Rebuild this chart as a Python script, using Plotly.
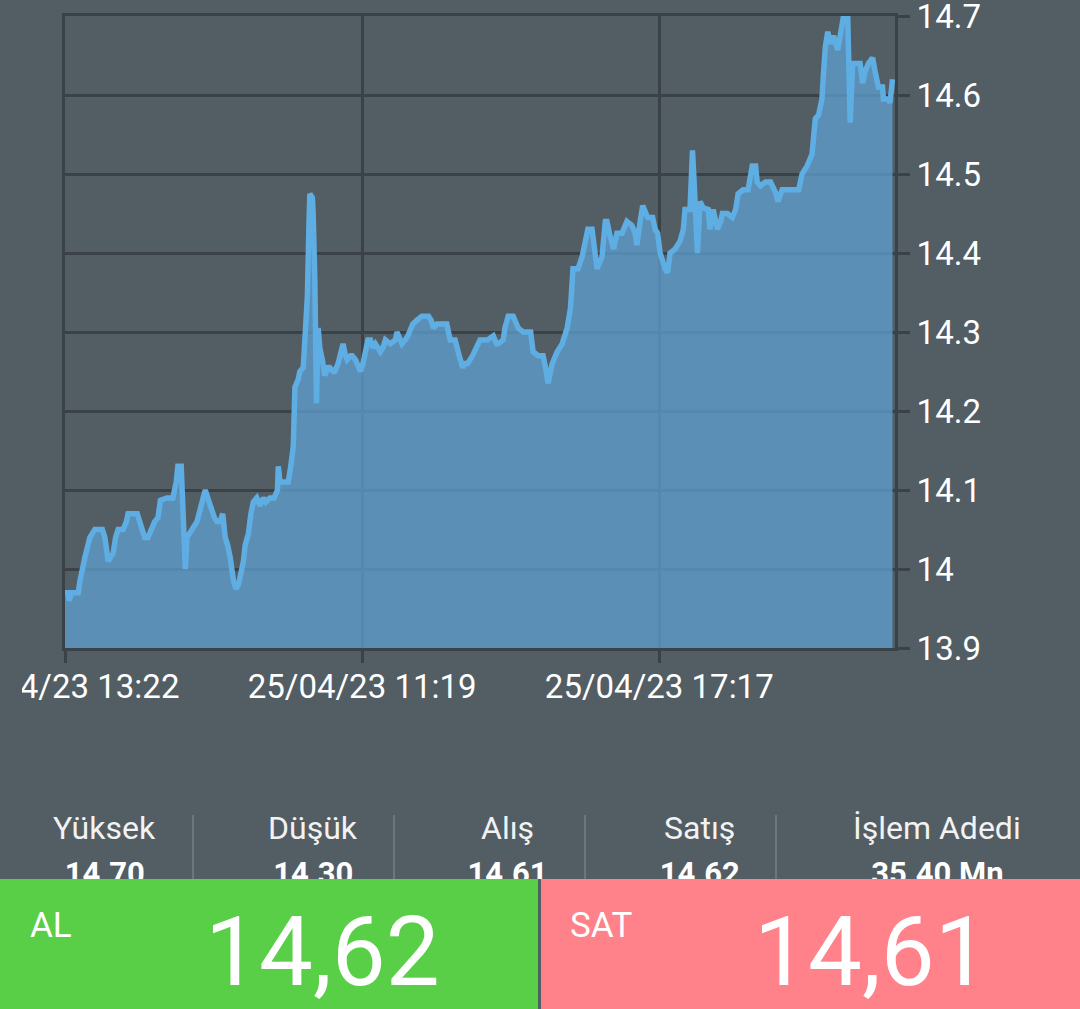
import plotly.graph_objects as go

W, H = 1080, 1009

# trading minutes since 24/04/23 13:22
minutes = [
    0, 4, 5, 8, 16, 18, 24, 28, 30, 36,
    45, 48, 52, 55, 58, 61, 64, 70, 74, 76,
    87, 90, 93, 96, 100, 105, 108, 112, 115, 123,
    130, 134, 136, 140, 143, 145, 147, 153, 159, 164,
    169, 172, 175, 180, 183, 187, 190, 193, 196, 199,
    203, 206, 209, 211, 215, 217, 221, 224, 227, 231,
    235, 239, 242, 247, 252, 256, 257, 259, 264, 269,
    272, 275, 277, 281, 283, 287, 289, 292, 294, 295,
    298, 299, 301, 303, 305, 307, 310, 313, 317, 319,
    323, 325, 329, 331, 335, 338, 340, 344, 346, 350,
    353, 356, 359, 362, 365, 368, 371, 374, 377, 380,
    383, 386, 392, 398, 400, 404, 406, 410, 413, 417,
    419, 424, 430, 438, 441, 444, 448, 452, 460, 464,
    470, 475, 479, 482, 485, 491, 495, 500, 509, 516,
    520, 522, 528, 530, 534, 540, 546, 552, 561, 564,
    570, 576, 579, 582, 585, 587, 593, 599, 605, 609,
    612, 618, 623, 627, 630, 635, 639, 641, 645, 647,
    651, 653, 657, 661, 665, 671, 677, 683, 687, 689,
    693, 696, 702, 708, 711, 714, 717, 721, 723, 726,
    729, 735, 741, 745, 747, 753, 756, 758, 759, 762,
    764, 765, 769, 775, 777, 781, 786, 790, 792, 798,
    804, 808, 811, 817, 823, 828, 832, 834, 838, 844,
    850, 856, 859, 864, 870, 878, 884, 888, 894, 900,
    904, 908, 912, 914, 916, 919, 922, 926, 931, 934,
    938, 943, 944, 946, 949, 955, 958, 961, 964, 968,
    973, 976, 980, 985, 986, 992, 994, 997,
]
price = [
    13.97, 13.97, 13.96, 13.97, 13.97, 13.985, 14.015, 14.03, 14.04, 14.05,
    14.05, 14.04, 14.01, 14.015, 14.02, 14.04, 14.05, 14.05, 14.06, 14.07,
    14.07, 14.06, 14.05, 14.04, 14.04, 14.055, 14.06, 14.065, 14.087, 14.09,
    14.09, 14.11, 14.13, 14.13, 14.03, 14.00, 14.04, 14.05, 14.06, 14.08,
    14.10, 14.09, 14.08, 14.065, 14.06, 14.06, 14.07, 14.04, 14.03, 14.015,
    13.985, 13.975, 13.98, 13.99, 14.01, 14.03, 14.045, 14.07, 14.085, 14.09,
    14.08, 14.09, 14.085, 14.09, 14.09, 14.10, 14.13, 14.11, 14.11, 14.11,
    14.13, 14.155, 14.23, 14.24, 14.25, 14.255, 14.29, 14.345, 14.44, 14.475,
    14.47, 14.45, 14.365, 14.21, 14.305, 14.28, 14.265, 14.245, 14.255, 14.255,
    14.25, 14.25, 14.26, 14.27, 14.285, 14.27, 14.265, 14.27, 14.27, 14.265,
    14.255, 14.25, 14.26, 14.275, 14.29, 14.29, 14.28, 14.285, 14.28, 14.275,
    14.28, 14.29, 14.285, 14.29, 14.30, 14.29, 14.285, 14.29, 14.295, 14.305,
    14.31, 14.315, 14.32, 14.32, 14.315, 14.305, 14.31, 14.31, 14.31, 14.29,
    14.29, 14.27, 14.255, 14.26, 14.26, 14.27, 14.28, 14.29, 14.29, 14.295,
    14.285, 14.285, 14.29, 14.305, 14.32, 14.32, 14.305, 14.30, 14.30, 14.275,
    14.27, 14.27, 14.255, 14.235, 14.25, 14.26, 14.275, 14.285, 14.305, 14.33,
    14.38, 14.38, 14.395, 14.415, 14.43, 14.43, 14.39, 14.38, 14.39, 14.395,
    14.44, 14.44, 14.42, 14.405, 14.425, 14.425, 14.44, 14.435, 14.425, 14.41,
    14.44, 14.46, 14.445, 14.445, 14.43, 14.425, 14.40, 14.385, 14.38, 14.375,
    14.40, 14.405, 14.415, 14.43, 14.455, 14.455, 14.53, 14.49, 14.467, 14.40,
    14.44, 14.465, 14.457, 14.455, 14.43, 14.455, 14.43, 14.44, 14.45, 14.45,
    14.445, 14.455, 14.475, 14.48, 14.48, 14.51, 14.51, 14.49, 14.485, 14.49,
    14.49, 14.477, 14.465, 14.48, 14.48, 14.48, 14.48, 14.50, 14.51, 14.525,
    14.57, 14.575, 14.595, 14.63, 14.66, 14.68, 14.665, 14.675, 14.657, 14.675,
    14.70, 14.70, 14.655, 14.565, 14.64, 14.64, 14.64, 14.615, 14.63, 14.64,
    14.647, 14.63, 14.61, 14.61, 14.595, 14.595, 14.59, 14.62,
]

x_tick_vals = [0, 358, 716]
x_tick_text = ["24/04/23 13:22", "25/04/23 11:19", "25/04/23 17:17"]
y_tick_vals = [13.9, 14.0, 14.1, 14.2, 14.3, 14.4, 14.5, 14.6, 14.7]
y_tick_text = ["13.9", "14", "14.1", "14.2", "14.3", "14.4", "14.5", "14.6", "14.7"]

stat_names = ["Yüksek", "Düşük", "Alış", "Satış", "İşlem Adedi"]
stat_values = ["14.70", "14.30", "14.61", "14.62", "35.40 Mn"]
stat_pos = [0.097, 0.29, 0.47, 0.648, 0.868]

buy_price = "14,62"
sell_price = "14,61"

bg = "#535d64"
grid = "#3a4248"
line_col = "#5eaee3"
font = "Roboto"

fig = go.Figure()
fig.add_trace(go.Scatter(
    x=minutes, y=price, mode="lines",
    line=dict(color=line_col, width=5.5),
    fill="tozeroy", fillcolor="rgba(94,160,210,0.75)",
    hoverinfo="skip", xaxis="x", yaxis="y",
))
# values row, clipped by the buttons below
fig.add_trace(go.Scatter(
    x=stat_pos, y=[0.03] * len(stat_pos), text=stat_values, mode="text",
    textposition="middle center",
    textfont=dict(family=font, size=31, color="#ffffff", weight="bold"),
    cliponaxis=True, hoverinfo="skip", xaxis="x2", yaxis="y2",
))

axis_font = dict(family=font, size=33, color="#ffffff")
fig.update_layout(
    width=W, height=H,
    template="none",
    showlegend=False,
    paper_bgcolor=bg, plot_bgcolor=bg,
    margin=dict(l=0, r=0, t=0, b=0),
    xaxis=dict(
        domain=[65 / W, 895 / W], range=[0, 1000],
        tickvals=x_tick_vals, ticktext=x_tick_text, tickfont=axis_font,
        showgrid=True, gridcolor=grid, gridwidth=3, zeroline=False,
        showline=True, linecolor=grid, linewidth=3, mirror=True,
        ticks="outside", ticklen=12, tickwidth=3, tickcolor=grid,
        ticklabeloverflow="allow", ticklabelstandoff=-5,
        automargin=False, fixedrange=True, anchor="y",
    ),
    yaxis=dict(
        domain=[1 - 648 / H, 1 - 16 / H], range=[13.9, 14.7], side="right",
        tickvals=y_tick_vals, ticktext=y_tick_text, tickfont=axis_font,
        showgrid=True, gridcolor=grid, gridwidth=3, zeroline=False,
        showline=True, linecolor=grid, linewidth=3, mirror=True,
        ticks="outside", ticklen=12, tickwidth=3, tickcolor=grid,
        ticklabeloverflow="allow",
        automargin=False, fixedrange=True, anchor="x",
    ),
    xaxis2=dict(domain=[0, 1], range=[0, 1], visible=False, anchor="y2"),
    yaxis2=dict(domain=[(H - 879) / H, (H - 780) / H], range=[0, 1],
                visible=False, anchor="x2"),
)

shapes = []
# the app clips the first date label at its left padding
shapes.append(dict(type="rect", xref="paper", yref="paper", x0=0, x1=22 / W,
                   y0=(H - 715) / H, y1=(H - 662) / H, fillcolor=bg,
                   line=dict(width=0), layer="above"))
for sx in [193, 394, 585, 776]:
    shapes.append(dict(type="line", xref="paper", yref="paper",
                       x0=sx / W, x1=sx / W, y0=(H - 880) / H, y1=(H - 815) / H,
                       line=dict(color="#6c767d", width=2), layer="below"))
shapes.append(dict(type="rect", xref="paper", yref="paper", x0=0, x1=538 / W,
                   y0=0, y1=(H - 879) / H, fillcolor="#58cf47",
                   line=dict(width=0), layer="above"))
shapes.append(dict(type="rect", xref="paper", yref="paper", x0=541 / W, x1=1,
                   y0=0, y1=(H - 879) / H, fillcolor="#ff8189",
                   line=dict(width=0), layer="above"))
fig.update_layout(shapes=shapes)

ann = []
for name, pos in zip(stat_names, stat_pos):
    ann.append(dict(text=name, x=pos, y=(H - 828) / H, xref="paper", yref="paper",
                    xanchor="center", yanchor="middle", showarrow=False,
                    font=dict(family=font, size=32, color="#f2f2f2")))
ann.append(dict(text="AL", x=28 / W, y=(H - 925) / H, xref="paper", yref="paper",
                xanchor="left", yanchor="middle", showarrow=False,
                font=dict(family=font, size=35, color="#ffffff")))
ann.append(dict(text=buy_price, x=322 / W, y=(H - 952) / H, xref="paper", yref="paper",
                xanchor="center", yanchor="middle", showarrow=False,
                font=dict(family=font, size=96, color="#ffffff")))
ann.append(dict(text="SAT", x=568 / W, y=(H - 925) / H, xref="paper", yref="paper",
                xanchor="left", yanchor="middle", showarrow=False,
                font=dict(family=font, size=35, color="#ffffff")))
ann.append(dict(text=sell_price, x=871 / W, y=(H - 952) / H, xref="paper", yref="paper",
                xanchor="center", yanchor="middle", showarrow=False,
                font=dict(family=font, size=96, color="#ffffff")))
fig.update_layout(annotations=ann)

fig.write_html(
    "out.html",
    config={"displayModeBar": False},
    post_script="document.body.style.margin='0';document.body.style.overflow='hidden';",
)
